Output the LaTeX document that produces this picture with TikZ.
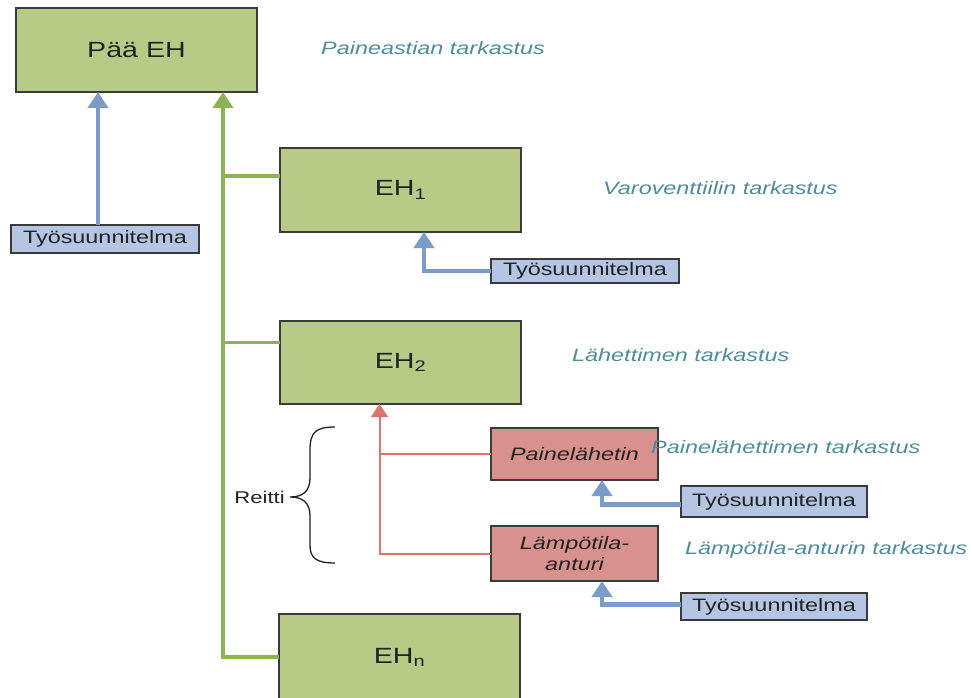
\documentclass[tikz,border=0pt]{standalone}
\usepackage{fontspec}
\setmainfont{Liberation Sans}[FakeStretch=1.3]
\usetikzlibrary{arrows.meta}
\definecolor{gfill}{HTML}{B7CB87}
\definecolor{gline}{HTML}{8DB255}
\definecolor{bfill}{HTML}{B4C6E4}
\definecolor{bline}{HTML}{7B9BC8}
\definecolor{rfill}{HTML}{D9918E}
\definecolor{rline}{HTML}{D9756C}
\definecolor{teal}{HTML}{4E8C9C}
\definecolor{boxline}{HTML}{3A3A3A}
\definecolor{txt}{HTML}{222222}
\begin{document}
\begin{tikzpicture}[x=1pt,y=-1pt,
  box/.style={draw=boxline, line width=1.6pt, inner sep=0pt, outer sep=0pt, anchor=north west, text=txt},
  greenbox/.style={box, fill=gfill, font=\fontsize{22}{26}\selectfont},
  redbox/.style={box, fill=rfill, align=center, font=\fontsize{18}{21}\selectfont\itshape},
  planbox/.style={box, fill=bfill, font=\fontsize{18}{20}\selectfont},
  note/.style={anchor=west, inner sep=0pt, text=teal, font=\fontsize{18}{20}\selectfont\itshape},
  garrow/.style={draw=gline, line width=3.6pt, -{Triangle[width=20pt,length=16pt]}},
  gconn/.style={draw=gline, line width=3.6pt},
  barrow/.style={draw=bline, line width=4.5pt, -{Triangle[width=20pt,length=16pt]}},
  rarrow/.style={draw=rline, line width=2pt, -{Triangle[width=17pt,length=13pt]}},
  rconn/.style={draw=rline, line width=2pt}]
\useasboundingbox (0,0) rectangle (972,697);

% main boxes
\node[greenbox, minimum width=241pt, minimum height=84pt] (pea) at (16,8) {Pää EH};
\node[greenbox, minimum width=241pt, minimum height=84pt] (eh1) at (280,148) {EH\textsubscript{1}};
\node[greenbox, minimum width=241pt, minimum height=83pt] (eh2) at (280,321) {EH\textsubscript{2}};
\node[greenbox, minimum width=241pt, minimum height=86pt] (ehn) at (279,614) {EH\textsubscript{n}};

% red boxes
\node[redbox, minimum width=167pt, minimum height=52pt] (pl) at (491,428) {Painelähetin};
\node[redbox, minimum width=167pt, minimum height=55pt] (la) at (491,526) {Lämpötila-\\anturi};

% work plan boxes
\node[planbox, minimum width=188pt, minimum height=28pt] (ts1) at (11,225) {Työsuunnitelma};
\node[planbox, minimum width=188pt, minimum height=24pt] (ts2) at (491,259) {Työsuunnitelma};
\node[planbox, minimum width=186pt, minimum height=31pt] (ts3) at (681,486) {Työsuunnitelma};
\node[planbox, minimum width=186pt, minimum height=27pt] (ts4) at (681,593) {Työsuunnitelma};

% notes
\node[note] (n0) at (321,48) {Paineastian tarkastus};
\node[note] (n1) at (603,188) {Varoventtiilin tarkastus};
\node[note] (n2) at (572,355) {Lähettimen tarkastus};
\node[note] (n3) at (651,447) {Painelähettimen tarkastus};
\node[note] (n4) at (685,550) {Lämpötila-anturin tarkastus};

% green trunk
\coordinate (ptop) at ([xshift=86.5pt]pea.south);
\draw[garrow] (ehn.west) -| (ptop);
\draw[gconn] ([yshift=14pt]eh1.west) -- ([yshift=14pt]eh1.west -| ptop);
\draw[gconn] ([yshift=20pt]eh2.west) -- ([yshift=20pt]eh2.west -| ptop);

% blue arrows
\draw[barrow] ([xshift=-7pt]ts1.north) -- ([xshift=-7pt]ts1.north |- pea.south);
\draw[barrow] (ts2.west) -| ([xshift=23.5pt]eh1.south);
\draw[barrow] ([yshift=-3pt]ts3.west) -| ([xshift=27.5pt]pl.south);
\draw[barrow] ([yshift=2pt]ts4.west) -| ([xshift=27.5pt]la.south);

% red connectors
\coordinate (rtop) at ([xshift=-21pt]eh2.south);
\draw[rarrow] (la.west) -| (rtop);
\draw[rconn] (pl.west) -- (pl.west -| rtop);

% brace and label
\draw[line width=1.3pt, draw=txt] (335,427) .. controls (316,427) and (310,432) .. (310,450) -- (310,478)
  .. controls (310,492) and (302,497) .. (290,497)
  .. controls (302,497) and (310,502) .. (310,516) -- (310,545)
  .. controls (310,558) and (316,563) .. (335,563);
\node[anchor=east, inner sep=0pt, text=txt, font=\fontsize{17}{20}\selectfont] (reitti) at (285,497) {Reitti};
\end{tikzpicture}
\end{document}
